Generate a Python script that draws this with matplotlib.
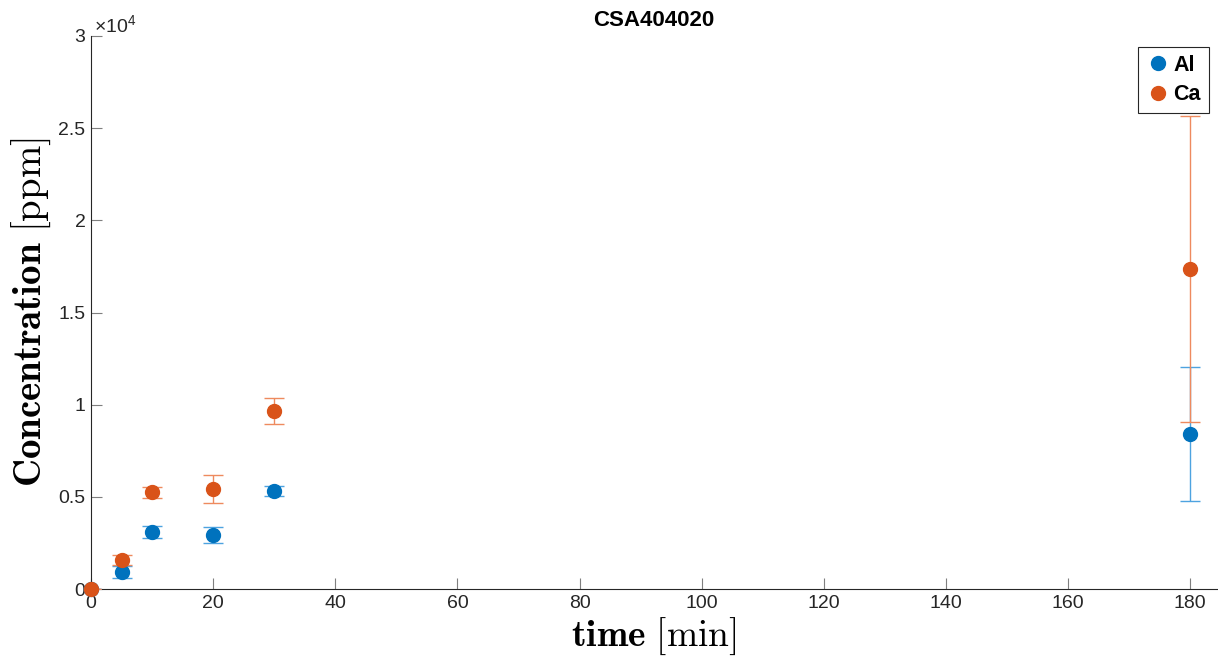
import matplotlib
matplotlib.use("Agg")
import matplotlib.pyplot as plt
from matplotlib.ticker import FuncFormatter, MultipleLocator
from matplotlib.lines import Line2D

time_min = [0, 5, 10, 20, 30, 180]
al_conc = [0, 920, 3090, 2930, 5320, 8410]
al_err = [0, 350, 330, 430, 270, 3660]
ca_conc = [0, 1570, 5260, 5430, 9660, 17360]
ca_err = [0, 270, 300, 760, 720, 8300]

plt.rcParams['font.family'] = ['Liberation Sans', 'DejaVu Sans']
plt.rcParams['mathtext.fontset'] = 'cm'

fig = plt.figure(figsize=(12.18, 6.6), dpi=100)
ax = fig.add_axes([91/1218, 1-589/660, (1217-91)/1218, (589-36)/660])

blue = '#0072BD'
orange = '#D95319'

for y, e, c, ec in [(al_conc, al_err, blue, '#4DA3E0'), (ca_conc, ca_err, orange, '#EE8A5E')]:
    cont = ax.errorbar(time_min, y, yerr=e, fmt='o', color=c, ecolor=ec,
                       markersize=10, capsize=7, elinewidth=1.0, capthick=1.0, zorder=3)
    cont[0].set_clip_on(False)

ax.set_xlim(0, 184.4)
ax.set_ylim(0, 30000)
ax.xaxis.set_major_locator(MultipleLocator(20))
ax.yaxis.set_major_locator(MultipleLocator(5000))
ax.yaxis.set_major_formatter(FuncFormatter(lambda v, p: f"{v/1e4:g}"))

for s in ['top', 'right']:
    ax.spines[s].set_visible(False)
for s in ['left', 'bottom']:
    ax.spines[s].set_color('#262626')
    ax.spines[s].set_linewidth(0.8)
ax.tick_params(direction='in', length=8, width=0.8, color='#7f7f7f',
               labelsize=14, labelcolor='#262626', pad=4)

ax.text(0.003, 1.0, r'$\mathregular{\times10^{4}}$', transform=ax.transAxes, fontsize=14,
        color='#262626', ha='left', va='bottom')

ax.set_xlabel(r'$\mathbf{time}\ [\mathrm{min}]$', fontsize=27, labelpad=3)
ax.set_ylabel(r'$\mathbf{Concentration}\ [\mathrm{ppm}]$', fontsize=28, labelpad=4)
ax.set_title('CSA404020', fontsize=16, fontweight='bold', pad=7)

handles = [Line2D([], [], marker='o', linestyle='none', color=blue, markersize=10),
           Line2D([], [], marker='o', linestyle='none', color=orange, markersize=10)]
leg = ax.legend(handles, ['Al', 'Ca'], loc='upper right', bbox_to_anchor=(0.9925, 0.98),
                prop={'size': 15.5, 'weight': 'bold'},
                fancybox=False, edgecolor='#262626', framealpha=1, handletextpad=0.1,
                borderpad=0.35, handlelength=1.2, labelspacing=0.4, borderaxespad=0)
leg.get_frame().set_linewidth(0.8)

fig.savefig('out.png', dpi=100)
